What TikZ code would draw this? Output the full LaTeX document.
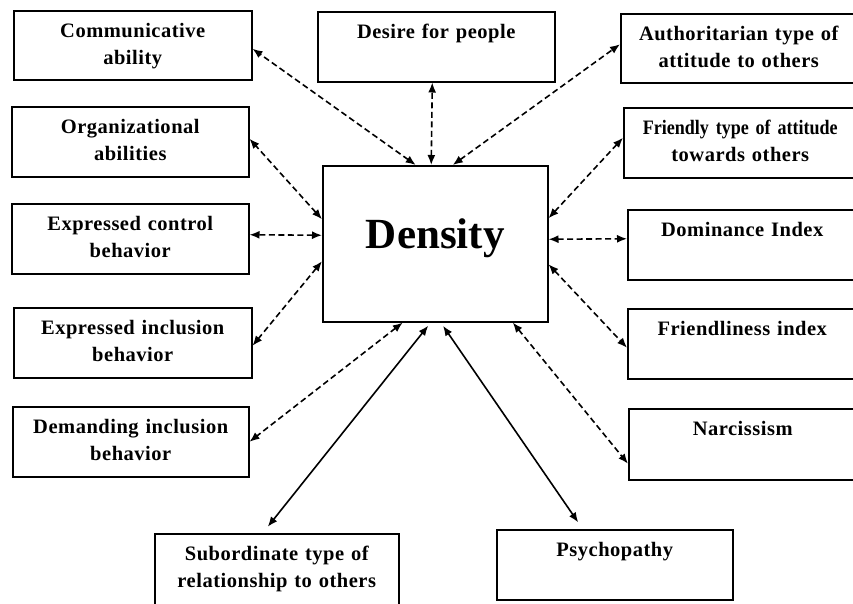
\documentclass[tikz,border=0pt]{standalone}
\usepackage{fontspec}
\setmainfont{Liberation Serif}
\newfontfamily\spacedfont[LetterSpace=2.5]{Liberation Serif}
\newfontfamily\narrowfont[FakeStretch=0.88]{Liberation Serif}
\usetikzlibrary{arrows.meta,calc}
\tikzset{
  item/.style={draw,line width=1.5pt,anchor=north west,inner sep=0pt,align=center,
    text height=27pt,font=\spacedfont\bfseries\fontsize{20.5}{27}\selectfont},
  hub/.style={draw,line width=1.5pt,anchor=north west,inner sep=0pt,
    font=\bfseries\fontsize{43}{50}\selectfont},
  link/.style={{Latex[length=10pt,width=8pt]}-{Latex[length=10pt,width=8pt]},
    line width=1.6pt,dash pattern=on 6pt off 3.5pt},
  bond/.style={{Latex[length=10pt,width=8pt]}-{Latex[length=10pt,width=8pt]},
    line width=1.6pt,shorten <=4pt,shorten >=8pt}
}
\begin{document}
\begin{tikzpicture}[x=1pt,y=-1pt]
  \useasboundingbox (0,0) rectangle (853,603);
  % centre
  \node[hub,minimum width=225pt,text height=83pt,text depth=73pt] (cen) at (322,165) {Density};
  % left column
  \node[item,text width=238pt,text depth=42pt] (comm) at (13,10) {Communicative\\ability};
  \node[item,text width=237pt,text depth=43pt] (org) at (11,106) {Organizational\\abilities};
  \node[item,text width=237pt,text depth=43pt] (ctrl) at (11,203) {Expressed control\\behavior};
  \node[item,text width=238pt,text depth=43pt] (incl) at (13,307) {Expressed inclusion\\behavior};
  \node[item,text width=236pt,text depth=43pt] (dem) at (12,406) {Demanding inclusion\\behavior};
  % top
  \node[item,text width=237pt,text depth=43pt] (desire) at (317,11) {Desire for people};
  % right column
  \node[item,text width=236pt,text depth=42pt] (auth) at (620,13) {Authoritarian type of\\attitude to others};
  \node[item,text width=233pt,text depth=43pt] (friendly) at (623,107) {{\narrowfont Friendly type of attitude}\\towards others};
  \node[item,text width=229pt,text depth=43pt] (dom) at (627,209) {Dominance Index};
  \node[item,text width=229pt,text depth=43pt] (fidx) at (627,308) {Friendliness index};
  \node[item,text width=228pt,text depth=44pt] (narc) at (628,408) {Narcissism};
  % bottom
  \node[item,text width=244pt,text depth=45pt] (sub) at (154,533) {Subordinate type of\\relationship to others};
  \node[item,text width=236pt,text depth=43pt] (psy) at (496,529) {Psychopathy};

  \draw[link] ([xshift=-19.5pt]cen.north) -- ([yshift=-3.5pt]comm.east);
  \draw[link] ([xshift=-4pt]cen.north) -- ([xshift=-4pt]desire.south);
  \draw[link] ([xshift=17.5pt]cen.north) -- ([yshift=4pt]auth.west);
  \draw[link] ([yshift=24.5pt]cen.west) -- ([yshift=3pt]org.east);
  \draw[link] ([yshift=8.5pt]cen.west) -- ([yshift=4pt]ctrl.east);
  \draw[link] ([yshift=-17.5pt]cen.west) -- ([yshift=-3pt]incl.east);
  \draw[link] ([xshift=-32.5pt]cen.south) -- (dem.east);
  \draw[link] ([yshift=25.5pt]cen.east) -- ([yshift=5pt]friendly.west);
  \draw[link] ([yshift=4.5pt]cen.east) -- ([yshift=6pt]dom.west);
  \draw[link] ([yshift=-20.5pt]cen.east) -- ([yshift=-4pt]fidx.west);
  \draw[link] ([xshift=77.5pt]cen.south) -- ([yshift=-19.5pt]narc.west);
  \draw[bond] ([xshift=-4.5pt]cen.south) -- ([xshift=-14pt]sub.north);
  \draw[bond] ([xshift=5.5pt]cen.south) -- ([xshift=-32pt]psy.north);
\end{tikzpicture}
\end{document}
